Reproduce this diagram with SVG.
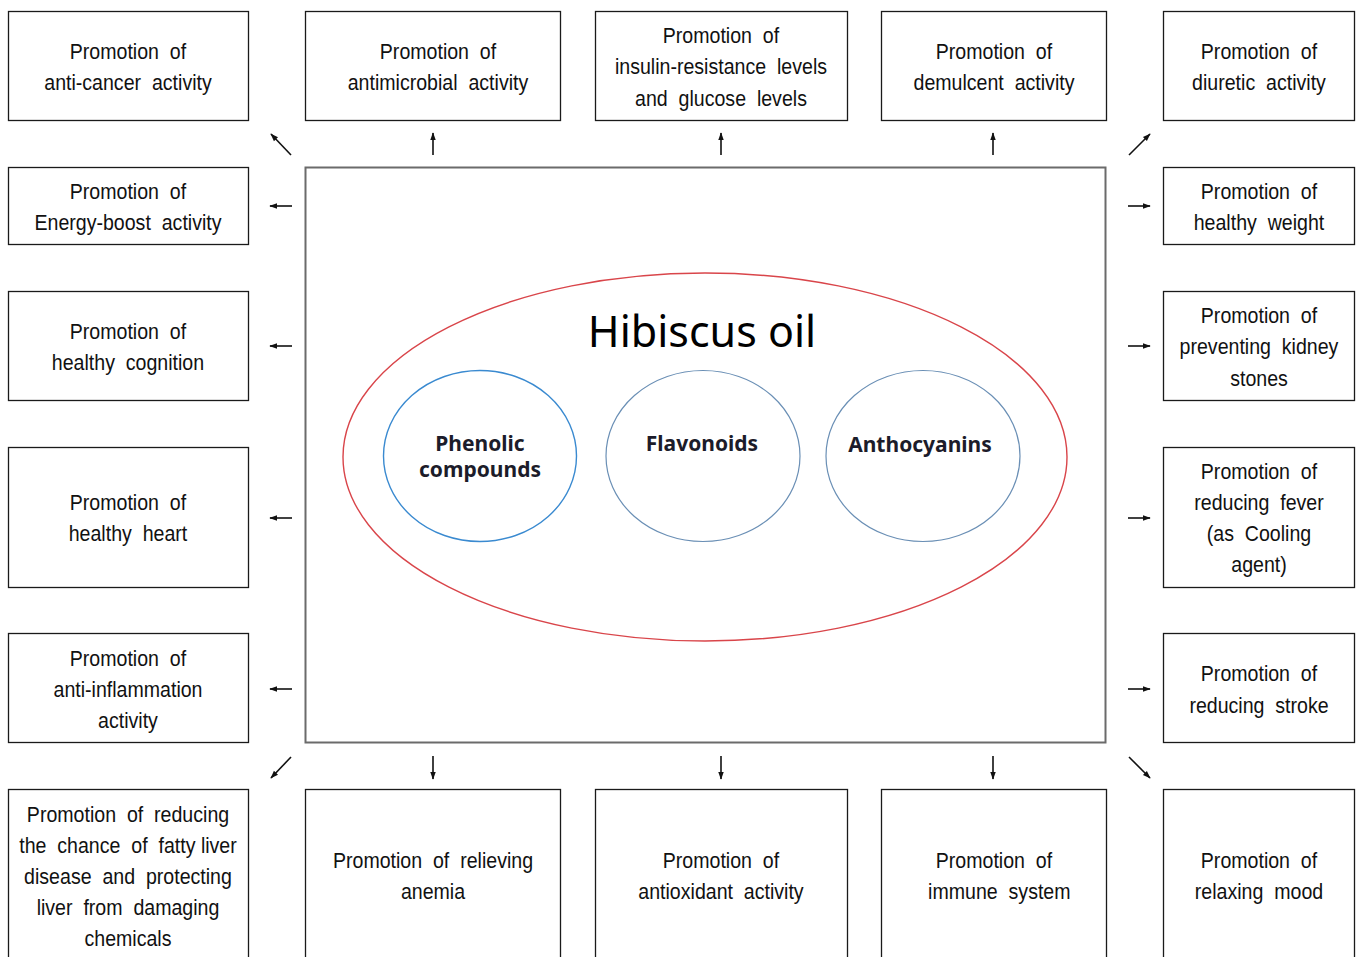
<svg xmlns="http://www.w3.org/2000/svg" width="1356" height="957" viewBox="0 0 1356 957">
<style>
.box{fill:#fff;stroke:#1a1a1a;stroke-width:1.3}
.t{font-family:"Liberation Sans",Arial,sans-serif;font-size:22px;fill:#111;text-anchor:middle;white-space:pre}
.c{font-family:"Noto Sans","Open Sans",sans-serif;font-weight:bold;font-size:21px;fill:#1c1c2a;text-anchor:middle}
.a{stroke:#111;stroke-width:1.6;fill:none}
</style>
<defs>
<marker id="ah" viewBox="0 0 10 10" refX="9" refY="5" markerWidth="8" markerHeight="8" orient="auto" markerUnits="userSpaceOnUse">
<path d="M0,1.5 L10,5 L0,8.5 Z" fill="#111"/>
</marker>
</defs>
<rect width="1356" height="957" fill="#fff"/>
<g id="center">
<rect x="305.5" y="167.5" width="800" height="575" fill="#fff" stroke="#6b6b6b" stroke-width="2"/>
<ellipse cx="705" cy="457" rx="362" ry="184" fill="none" stroke="#d9454a" stroke-width="1.4"/>
<text x="702" y="347" font-family="'Noto Sans','Open Sans',sans-serif" font-size="43" fill="#000" text-anchor="middle">Hibiscus oil</text>
</g>
<g id="phenolic"><ellipse cx="480" cy="456" rx="96.5" ry="85.5" fill="#fff" stroke="#3a8ad0" stroke-width="1.4"/><text class="c" x="480" y="451">Phenolic</text><text class="c" x="480" y="477">compounds</text></g>
<g id="flavonoids"><ellipse cx="703" cy="456" rx="97" ry="85.5" fill="#fff" stroke="#6a8fb5" stroke-width="1.2"/><text class="c" x="702" y="451">Flavonoids</text></g>
<g id="anthocyanins"><ellipse cx="923" cy="456" rx="97" ry="85.5" fill="#fff" stroke="#6a8fb5" stroke-width="1.2"/><text class="c" x="920" y="452">Anthocyanins</text></g>

<g id="n1"><rect class="box" x="8.5" y="11.5" width="240" height="109"/><g transform="matrix(0.89,0,0,1,14.08,0)"><text class="t" x="128" y="59">Promotion  of</text><text class="t" x="128" y="90">anti-cancer  activity</text></g></g>
<g id="n2"><rect class="box" x="305.5" y="11.5" width="255" height="109"/><g transform="matrix(0.89,0,0,1,48.18,0)"><text class="t" x="438" y="59">Promotion  of</text><text class="t" x="438" y="90">antimicrobial  activity</text></g></g>
<g id="n3"><rect class="box" x="595.5" y="11.5" width="252" height="109"/><g transform="matrix(0.89,0,0,1,79.31,0)"><text class="t" x="721" y="43">Promotion  of</text><text class="t" x="721" y="74">insulin-resistance  levels</text><text class="t" x="721" y="106">and  glucose  levels</text></g></g>
<g id="n4"><rect class="box" x="881.5" y="11.5" width="225" height="109"/><g transform="matrix(0.89,0,0,1,109.34,0)"><text class="t" x="994" y="59">Promotion  of</text><text class="t" x="994" y="90">demulcent  activity</text></g></g>
<g id="n5"><rect class="box" x="1163.5" y="11.5" width="191" height="109"/><g transform="matrix(0.89,0,0,1,138.49,0)"><text class="t" x="1259" y="59">Promotion  of</text><text class="t" x="1259" y="90">diuretic  activity</text></g></g>

<g id="n6"><rect class="box" x="8.5" y="167.5" width="240" height="77"/><g transform="matrix(0.89,0,0,1,14.08,0)"><text class="t" x="128" y="199">Promotion  of</text><text class="t" x="128" y="230">Energy-boost  activity</text></g></g>
<g id="n7"><rect class="box" x="8.5" y="291.5" width="240" height="109"/><g transform="matrix(0.89,0,0,1,14.08,0)"><text class="t" x="128" y="339">Promotion  of</text><text class="t" x="128" y="370">healthy  cognition</text></g></g>
<g id="n8"><rect class="box" x="8.5" y="447.5" width="240" height="140"/><g transform="matrix(0.89,0,0,1,14.08,0)"><text class="t" x="128" y="510">Promotion  of</text><text class="t" x="128" y="541">healthy  heart</text></g></g>
<g id="n9"><rect class="box" x="8.5" y="633.5" width="240" height="109"/><g transform="matrix(0.89,0,0,1,14.08,0)"><text class="t" x="128" y="666">Promotion  of</text><text class="t" x="128" y="697">anti-inflammation</text><text class="t" x="128" y="728">activity</text></g></g>
<g id="n10"><rect class="box" x="8.5" y="789.5" width="240" height="180"/><g transform="matrix(0.89,0,0,1,14.08,0)"><text class="t" x="128" y="822">Promotion  of  reducing</text><text class="t" x="128" y="853">the  chance  of  fatty liver</text><text class="t" x="128" y="884">disease  and  protecting</text><text class="t" x="128" y="915">liver  from  damaging</text><text class="t" x="128" y="946">chemicals</text></g></g>

<g id="n11"><rect class="box" x="1163.5" y="167.5" width="191" height="77"/><g transform="matrix(0.89,0,0,1,138.49,0)"><text class="t" x="1259" y="199">Promotion  of</text><text class="t" x="1259" y="230">healthy  weight</text></g></g>
<g id="n12"><rect class="box" x="1163.5" y="291.5" width="191" height="109"/><g transform="matrix(0.89,0,0,1,138.49,0)"><text class="t" x="1259" y="323">Promotion  of</text><text class="t" x="1259" y="354">preventing  kidney</text><text class="t" x="1259" y="386">stones</text></g></g>
<g id="n13"><rect class="box" x="1163.5" y="447.5" width="191" height="140"/><g transform="matrix(0.89,0,0,1,138.49,0)"><text class="t" x="1259" y="479">Promotion  of</text><text class="t" x="1259" y="510">reducing  fever</text><text class="t" x="1259" y="541">(as  Cooling</text><text class="t" x="1259" y="572">agent)</text></g></g>
<g id="n14"><rect class="box" x="1163.5" y="633.5" width="191" height="109"/><g transform="matrix(0.89,0,0,1,138.49,0)"><text class="t" x="1259" y="681">Promotion  of</text><text class="t" x="1259" y="713">reducing  stroke</text></g></g>

<g id="n15"><rect class="box" x="305.5" y="789.5" width="255" height="180"/><g transform="matrix(0.89,0,0,1,47.63,0)"><text class="t" x="433" y="868">Promotion  of  relieving</text><text class="t" x="433" y="899">anemia</text></g></g>
<g id="n16"><rect class="box" x="595.5" y="789.5" width="252" height="180"/><g transform="matrix(0.89,0,0,1,79.31,0)"><text class="t" x="721" y="868">Promotion  of</text><text class="t" x="721" y="899">antioxidant  activity</text></g></g>
<g id="n17"><rect class="box" x="881.5" y="789.5" width="225" height="180"/><g transform="matrix(0.89,0,0,1,109.34,0)"><text class="t" x="994" y="868">Promotion  of</text><text class="t" x="1000" y="899">immune  system</text></g></g>
<g id="n18"><rect class="box" x="1163.5" y="789.5" width="191" height="180"/><g transform="matrix(0.89,0,0,1,138.49,0)"><text class="t" x="1259" y="868">Promotion  of</text><text class="t" x="1259" y="899">relaxing  mood</text></g></g>

<g id="connectors">
<line class="a" marker-end="url(#ah)" x1="291" y1="155" x2="271" y2="134"/>
<line class="a" marker-end="url(#ah)" x1="433" y1="155" x2="433" y2="133"/>
<line class="a" marker-end="url(#ah)" x1="721" y1="155" x2="721" y2="133"/>
<line class="a" marker-end="url(#ah)" x1="993" y1="155" x2="993" y2="133"/>
<line class="a" marker-end="url(#ah)" x1="1129" y1="155" x2="1150" y2="134"/>
<line class="a" marker-end="url(#ah)" x1="292" y1="206" x2="270" y2="206"/>
<line class="a" marker-end="url(#ah)" x1="292" y1="346" x2="270" y2="346"/>
<line class="a" marker-end="url(#ah)" x1="292" y1="518" x2="270" y2="518"/>
<line class="a" marker-end="url(#ah)" x1="292" y1="689" x2="270" y2="689"/>
<line class="a" marker-end="url(#ah)" x1="1128" y1="206" x2="1150" y2="206"/>
<line class="a" marker-end="url(#ah)" x1="1128" y1="346" x2="1150" y2="346"/>
<line class="a" marker-end="url(#ah)" x1="1128" y1="518" x2="1150" y2="518"/>
<line class="a" marker-end="url(#ah)" x1="1128" y1="689" x2="1150" y2="689"/>
<line class="a" marker-end="url(#ah)" x1="291" y1="757" x2="271" y2="778"/>
<line class="a" marker-end="url(#ah)" x1="433" y1="756" x2="433" y2="779"/>
<line class="a" marker-end="url(#ah)" x1="721" y1="756" x2="721" y2="779"/>
<line class="a" marker-end="url(#ah)" x1="993" y1="756" x2="993" y2="779"/>
<line class="a" marker-end="url(#ah)" x1="1129" y1="757" x2="1150" y2="778"/>
</g>
</svg>
